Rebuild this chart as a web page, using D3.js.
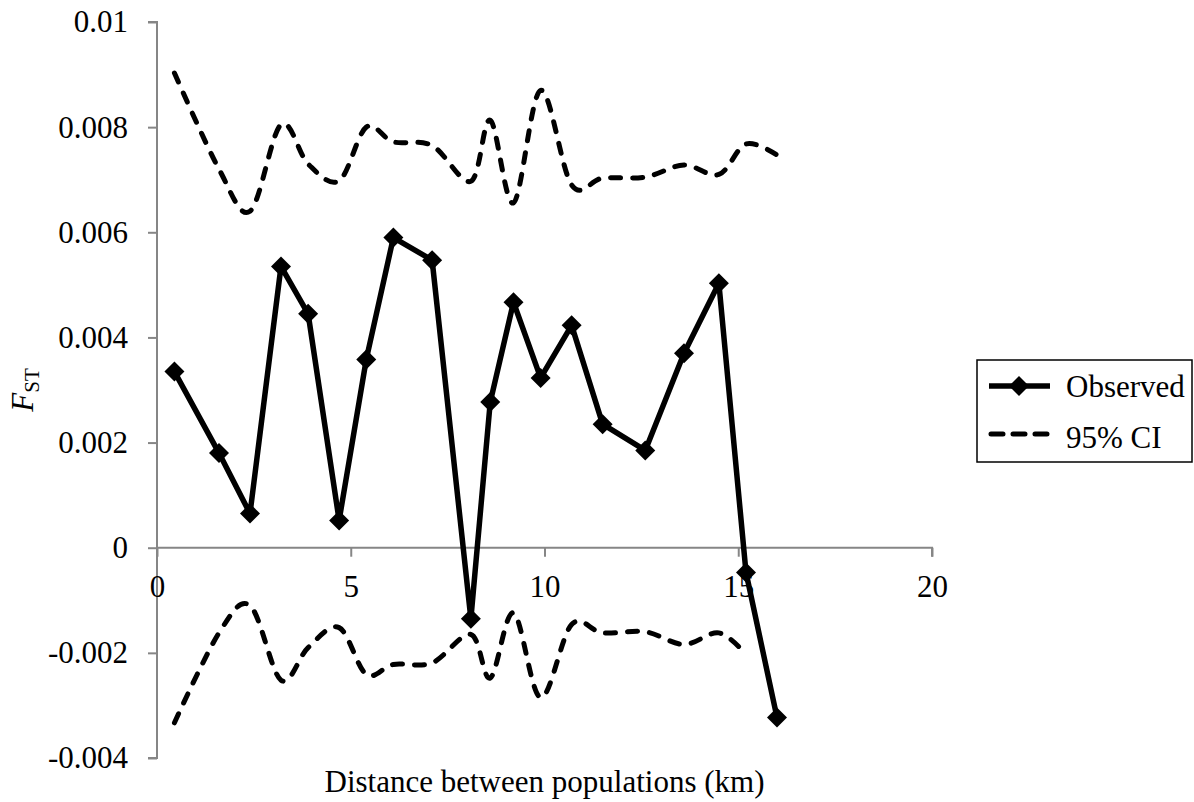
<!DOCTYPE html>
<html>
<head>
<meta charset="utf-8">
<script src="https://cdn.jsdelivr.net/npm/d3@7"></script>
<style>
  html, body { margin: 0; padding: 0; background: #fff; }
  svg { display: block; }
  text { font-family: "Liberation Serif", "Times New Roman", serif; fill: #000; }
</style>
</head>
<body>
<svg id="chart" width="1194" height="802"></svg>
<script>
// Data
const distanceKm = [0.45, 1.6, 2.4, 3.2, 3.9, 4.7, 5.4, 6.1, 7.1, 8.1, 8.6, 9.2, 9.9, 10.7, 11.5, 12.6, 13.6, 14.5, 15.2, 16.0];
const observedFst = [0.00335, 0.0018, 0.00065, 0.00535, 0.00445, 0.00052, 0.00358, 0.0059, 0.00547, -0.00135, 0.00277, 0.00467, 0.00323, 0.00423, 0.00235, 0.00185, 0.0037, 0.00503, -0.00047, -0.00323];
const upperCI = [0.00903, 0.0072, 0.0064, 0.00805, 0.0073, 0.00698, 0.0080, 0.00772, 0.00765, 0.00697, 0.00813, 0.00656, 0.0087, 0.0069, 0.00703, 0.00705, 0.00728, 0.0071, 0.00768, 0.00747];
const lowerCI = [-0.00333, -0.00162, -0.0011, -0.00252, -0.0019, -0.00152, -0.00241, -0.00222, -0.00219, -0.00165, -0.00248, -0.00124, -0.00285, -0.00146, -0.00162, -0.0016, -0.00184, -0.00162, -0.00203, null];
const xTicks = [0, 5, 10, 15, 20];
const yTicks = [-0.004, -0.002, 0, 0.002, 0.004, 0.006, 0.008, 0.01];
const yTickLabels = ["-0.004", "-0.002", "0", "0.002", "0.004", "0.006", "0.008", "0.01"];
const legendLabels = ["Observed", "95% CI"];

const svg = d3.select("#chart");
const FS = 31;
const axisColor = "#868686";

const x = d3.scaleLinear().domain([0, 20]).range([157, 932]);
const y = d3.scaleLinear().domain([-0.004, 0.01]).range([758, 22]);

// Y axis
const yAxis = d3.axisLeft(y).tickValues(yTicks)
  .tickFormat((d, i) => yTickLabels[i]).tickSize(9).tickPadding(20);
const gy = svg.append("g").attr("transform", `translate(${x(0)},0)`).call(yAxis);
gy.attr("font-family", null);
gy.select(".domain").attr("stroke", axisColor).attr("stroke-width", 2).attr("d", `M-9,${y(0.01)}H0V${y(-0.004)}H-9`);
gy.selectAll(".tick line").attr("stroke", axisColor).attr("stroke-width", 2);
gy.selectAll(".tick text").attr("font-size", FS).attr("font-family", "Liberation Serif").attr("fill", "#000");

// X axis at y=0
const xAxis = d3.axisBottom(x).tickValues(xTicks).tickFormat(d3.format("d")).tickSize(9).tickPadding(18);
const gx = svg.append("g").attr("transform", `translate(0,${y(0)})`).call(xAxis);
gx.attr("font-family", null);
gx.select(".domain").attr("stroke", axisColor).attr("stroke-width", 2).attr("d", `M${x(0)},9V0H${x(20)}V9`);
gx.selectAll(".tick line").attr("stroke", axisColor).attr("stroke-width", 2);
gx.selectAll(".tick text").attr("font-size", FS).attr("font-family", "Liberation Serif").attr("fill", "#000");

// Axis titles
svg.append("text").attr("x", (x(0) + x(20)) / 2).attr("y", 792)
  .attr("text-anchor", "middle").attr("font-size", FS)
  .text("Distance between populations (km)");

const yl = svg.append("text").attr("transform", `translate(33,${(y(0.01) + y(-0.004)) / 2}) rotate(-90)`)
  .attr("text-anchor", "middle").attr("font-size", FS);
yl.append("tspan").attr("font-style", "italic").text("F");
yl.append("tspan").attr("font-size", 21).attr("dy", 6).text("ST");

// Lines
const smooth = d3.line().defined(d => d[1] != null)
  .x(d => x(d[0])).y(d => y(d[1])).curve(d3.curveCardinal.tension(0));
const straight = d3.line().x(d => x(d[0])).y(d => y(d[1]));

const ciStyle = sel => sel.attr("fill", "none").attr("stroke", "#000").attr("stroke-width", 5)
  .attr("stroke-dasharray", "10 12").attr("stroke-linecap", "round");

svg.append("path").datum(distanceKm.map((d, i) => [d, upperCI[i]])).attr("d", smooth).call(ciStyle);
svg.append("path").datum(distanceKm.map((d, i) => [d, lowerCI[i]])).attr("d", smooth).call(ciStyle);

const obs = distanceKm.map((d, i) => [d, observedFst[i]]);
svg.append("path").datum(obs).attr("d", straight)
  .attr("fill", "none").attr("stroke", "#000").attr("stroke-width", 5.5).attr("stroke-linejoin", "round");

const diamond = r => `M0,${-r}L${r},0L0,${r}L${-r},0Z`;
svg.append("g").selectAll("path").data(obs).join("path")
  .attr("transform", d => `translate(${x(d[0])},${y(d[1])})`)
  .attr("d", diamond(10)).attr("fill", "#000");

// Legend
const lg = svg.append("g");
lg.append("rect").attr("x", 977).attr("y", 360).attr("width", 215).attr("height", 102)
  .attr("fill", "#fff").attr("stroke", "#000").attr("stroke-width", 1.5);
lg.append("line").attr("x1", 989).attr("x2", 1050).attr("y1", 386).attr("y2", 386)
  .attr("stroke", "#000").attr("stroke-width", 5.5);
lg.append("path").attr("transform", "translate(1019,386)").attr("d", diamond(10)).attr("fill", "#000");
lg.append("text").attr("x", 1066).attr("y", 397).attr("font-size", FS).text(legendLabels[0]);
lg.append("line").attr("x1", 991).attr("x2", 1050).attr("y1", 434).attr("y2", 434)
  .attr("stroke", "#000").attr("stroke-width", 5).attr("stroke-dasharray", "12 10").attr("stroke-linecap", "round");
lg.append("text").attr("x", 1066).attr("y", 448).attr("font-size", FS).text(legendLabels[1]);
</script>
</body>
</html>
